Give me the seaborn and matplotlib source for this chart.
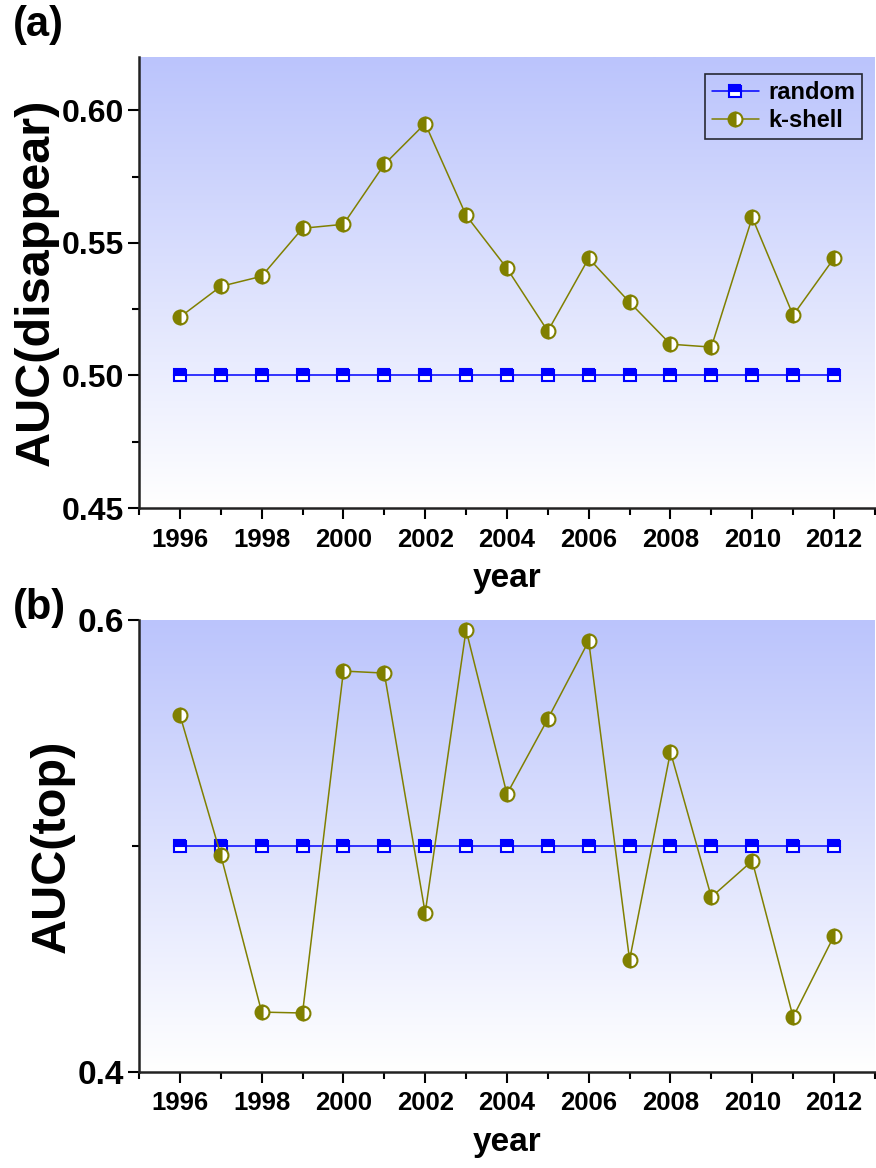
import numpy as np
import matplotlib
matplotlib.use('Agg')
import matplotlib.pyplot as plt
from matplotlib.ticker import MultipleLocator, FormatStrFormatter
from matplotlib.colors import LinearSegmentedColormap
import seaborn as sns

years = list(range(1996, 2013))
random_a = [0.50] * 17
kshell_a = [0.522, 0.5336, 0.5374, 0.5555, 0.557, 0.5796, 0.595, 0.5604, 0.5404,
            0.5167, 0.5442, 0.5276, 0.5118, 0.5107, 0.5596, 0.5227, 0.5442]
random_b = [0.50] * 17
kshell_b = [0.558, 0.496, 0.4265, 0.4261, 0.5774, 0.5765, 0.4704, 0.5956, 0.523,
            0.5562, 0.5907, 0.4496, 0.5416, 0.4774, 0.4934, 0.4243, 0.4602]

sns.set_style('ticks')
plt.rcParams['font.family'] = ['Liberation Sans', 'DejaVu Sans']
plt.rcParams['font.weight'] = 'bold'
for k in ['text.color', 'axes.labelcolor', 'xtick.color', 'ytick.color']:
    plt.rcParams[k] = 'black'

fig = plt.figure(figsize=(8.76, 11.68), dpi=100)
ax1 = fig.add_axes([0.1587, 0.565, 0.84, 0.386])
ax2 = fig.add_axes([0.1587, 0.0822, 0.84, 0.387])

# vertical gradient behind the data
bg = LinearSegmentedColormap.from_list('bg', ['white', '#bbc4fc'])
grad = np.linspace(0, 1, 256).reshape(-1, 1)

def draw_panel(ax, rnd, ks, ylim, major, minor, ylabel, ytick_size):
    ax.imshow(grad, extent=[0, 1, 0, 1], transform=ax.transAxes, aspect='auto',
              cmap=bg, origin='lower', zorder=0)
    sns.lineplot(x=years, y=rnd, ax=ax, color='#0000ff', lw=1.1, marker='s', ms=9,
                 fillstyle='top', markerfacecolor='#0000ff', markerfacecoloralt='white',
                 markeredgecolor='#0000ff', markeredgewidth=1.5, label='random', zorder=3)
    sns.lineplot(x=years, y=ks, ax=ax, color='#808000', lw=1.1, marker='o', ms=10,
                 fillstyle='left', markerfacecolor='#808000', markerfacecoloralt='white',
                 markeredgecolor='#808000', markeredgewidth=1.5, label='k-shell', zorder=4)
    ax.set_xlim(1995, 2013)
    ax.set_ylim(*ylim)
    ax.xaxis.set_major_locator(MultipleLocator(2))
    ax.xaxis.set_minor_locator(MultipleLocator(1))
    ax.yaxis.set_major_locator(MultipleLocator(major))
    ax.yaxis.set_minor_locator(MultipleLocator(minor))
    for s in ['top', 'right']:
        ax.spines[s].set_visible(False)
    for s in ['left', 'bottom']:
        ax.spines[s].set_linewidth(1.8)
        ax.spines[s].set_color('#222222')
    ax.tick_params(axis='both', which='major', direction='out', length=8, width=1.5)
    ax.tick_params(axis='both', which='minor', direction='out', length=5, width=1.5)
    ax.tick_params(axis='x', labelsize=18.5, pad=6)
    ax.tick_params(axis='y', labelsize=ytick_size, pad=3)
    ax.set_xlabel('year', fontsize=24, fontweight='bold', labelpad=8)
    ax.set_ylabel(ylabel, fontsize=35, fontweight='bold', labelpad=2)
    for lab in ax.get_xticklabels() + ax.get_yticklabels():
        lab.set_fontweight('bold')

draw_panel(ax1, random_a, kshell_a, (0.45, 0.62), 0.05, 0.025, 'AUC(disappear)', 23)
ax1.yaxis.set_major_formatter(FormatStrFormatter('%.2f'))
draw_panel(ax2, random_b, kshell_b, (0.4, 0.6), 0.2, 0.1, 'AUC(top)', 24)
ax2.yaxis.set_major_formatter(FormatStrFormatter('%.1f'))

leg = ax1.legend(loc='upper right', bbox_to_anchor=(0.983, 0.962), borderaxespad=0,
                 frameon=True, fancybox=False, facecolor='none', edgecolor='black',
                 prop={'weight': 'bold', 'size': 17}, handlelength=2.0,
                 borderpad=0.3, labelspacing=0.2, handletextpad=0.4)
leg.get_frame().set_linewidth(1.2)
ax2.get_legend().remove()

fig.text(0.015, 0.996, '(a)', fontsize=30, fontweight='bold', va='top', ha='left')
fig.text(0.015, 0.497, '(b)', fontsize=30, fontweight='bold', va='top', ha='left')

fig.savefig('out.png', dpi=100)
